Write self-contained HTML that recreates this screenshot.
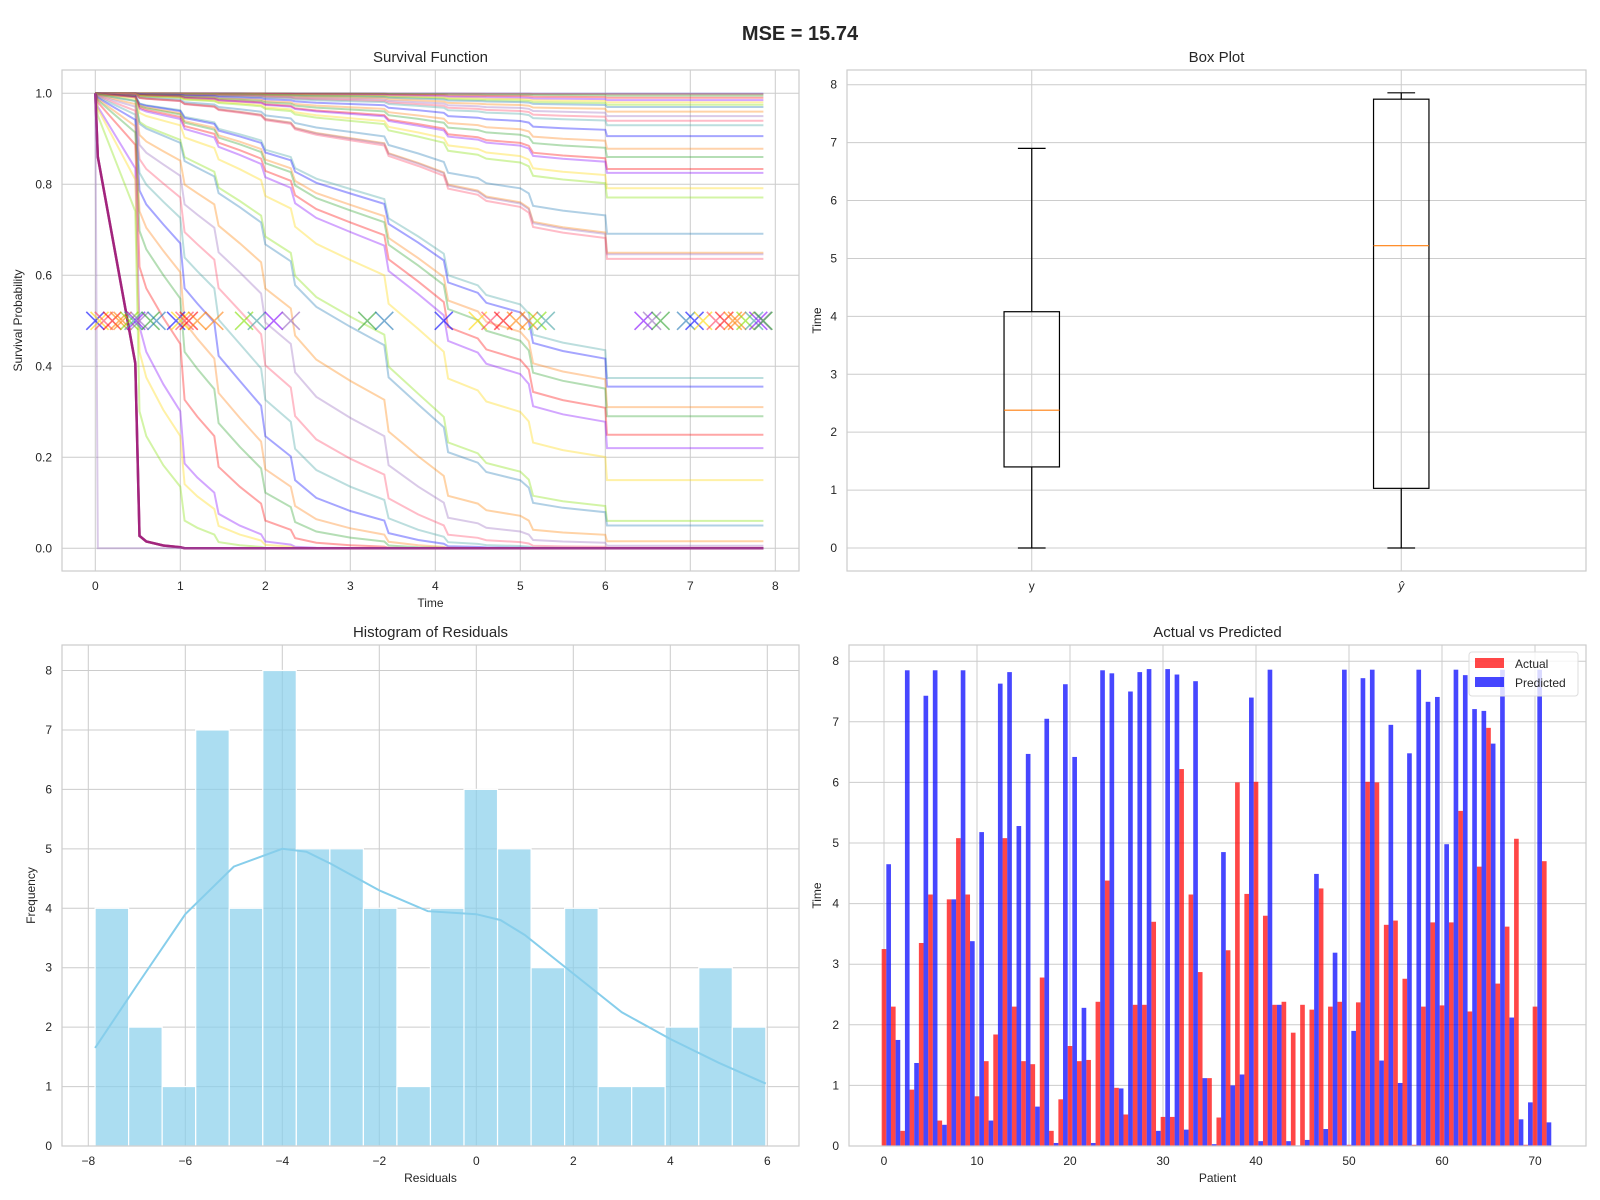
<!DOCTYPE html>
<html><head><meta charset="utf-8"><style>
body{margin:0;background:#fff;}
svg{display:block;font-family:"Liberation Sans",Arial,sans-serif;}
</style></head><body>
<svg id="fig" width="1600" height="1200" viewBox="0 0 1600 1200">
<text x="800" y="40" text-anchor="middle" font-size="20" font-weight="bold" fill="#262626">MSE = 15.74</text>
<g id="p1"></g>
<g id="p2"></g>
<g id="p3"></g>
<g id="p4"></g>
</svg>
<script>
// ---- Survival data ----
const survTimes = [0,0.03,0.47,0.52,0.6,0.8,1.0,1.05,1.2,1.4,1.45,1.7,1.95,2.0,2.3,2.35,2.6,3.0,3.4,3.45,3.8,4.1,4.15,4.5,4.6,5.0,5.1,5.15,5.5,6.0,6.02,7.86];
const baseHazard = [0,0.0005,0.003,0.012,0.014,0.017,0.02,0.028,0.031,0.035,0.043,0.05,0.058,0.07,0.08,0.095,0.11,0.125,0.14,0.17,0.2,0.23,0.27,0.29,0.31,0.33,0.35,0.40,0.42,0.44,0.52,0.52];
const riskScores = [0.002,0.004,0.0096,0.019,0.029,0.039,0.049,0.059,0.079,0.099,0.12,0.14,0.19,0.25,0.29,0.35,0.37,0.45,0.5,0.71,0.83,0.84,0.87,1.89,1.99,2.25,2.38,2.67,2.91,3.65,5.4,5.76,8,10,13,16,20,25,30,40,60,70,100,300,300,20000];
const markerTimes = [0.0,0.05,0.1,0.2,0.28,0.32,0.4,0.45,0.48,0.52,0.65,0.72,0.95,1.0,1.05,1.1,1.2,1.4,1.75,1.9,2.1,2.3,3.2,3.4,4.1,4.5,4.65,4.8,4.95,5.1,5.2,5.3,6.45,6.55,6.65,6.95,7.05,7.15,7.3,7.4,7.5,7.55,7.65,7.75,7.8,7.85,7.86];
const survXTicks = [0,1,2,3,4,5,6,7,8];
const survYTicks = [0.0,0.2,0.4,0.6,0.8,1.0];
// ---- Box plot data ----
const boxLabels = ['y','ŷ'];
const boxMin = [0,0];
const boxQ1 = [1.4,1.03];
const boxMedian = [2.38,5.22];
const boxQ3 = [4.08,7.75];
const boxMax = [6.9,7.86];
const boxYTicks = [0,1,2,3,4,5,6,7,8];
// ---- Histogram data ----
const histCounts = [4,2,1,7,4,8,5,5,4,1,4,6,5,3,4,1,1,2,3,2];
const histMin = -7.86, histMax = 5.97;
const kdeX = [-7.86,-7,-6,-5,-4,-3.5,-3,-2,-1,0,0.5,1,2,3,4,5,5.97];
const kdeY = [1.65,2.7,3.9,4.7,5.0,4.95,4.75,4.3,3.95,3.9,3.8,3.55,2.9,2.25,1.8,1.4,1.05];
const histXTicks = [-8,-6,-4,-2,0,2,4,6];
const histYTicks = [0,1,2,3,4,5,6,7,8];
// ---- Actual vs Predicted ----
const actual = [3.25,2.3,0.25,0.93,3.35,4.15,0.42,4.07,5.08,4.15,0.82,1.4,1.84,5.08,2.3,1.4,1.35,2.78,0.25,0.77,1.65,1.4,1.42,2.38,4.38,0.96,0.52,2.33,2.33,3.7,0.48,0.48,6.22,4.15,2.87,1.12,0.47,3.23,6.0,4.16,6.01,3.8,2.33,2.38,1.87,2.33,2.25,4.25,2.3,2.38,0.02,2.37,6.01,6.0,3.65,3.72,2.76,0.02,2.3,3.69,2.32,3.69,5.53,2.22,4.61,6.9,2.68,3.62,5.07,0.02,2.3,4.7];
const predicted = [4.65,1.75,7.85,1.37,7.43,7.85,0.35,4.07,7.85,3.38,5.18,0.42,7.63,7.82,5.28,6.47,0.65,7.05,0.05,7.62,6.42,2.28,0.05,7.85,7.8,0.95,7.5,7.82,7.87,0.25,7.87,7.78,0.27,7.67,1.12,0.03,4.85,1.0,1.18,7.4,0.08,7.86,2.33,0.08,0.01,0.1,4.49,0.28,3.19,7.86,1.9,7.72,7.86,1.41,6.95,1.04,6.48,7.86,7.33,7.41,4.98,7.86,7.77,7.21,7.18,6.64,7.86,2.12,0.44,0.72,7.86,0.39];
const barXTicks = [0,10,20,30,40,50,60,70];
const barYTicks = [0,1,2,3,4,5,6,7,8];

const NS='http://www.w3.org/2000/svg';
function mk(parent,tag,attrs,text){const e=document.createElementNS(NS,tag);for(const k in attrs)e.setAttribute(k,attrs[k]);if(text!==undefined)e.textContent=text;parent.appendChild(e);return e;}
function lin(d0,d1,r0,r1){return v=>r0+(v-d0)*(r1-r0)/(d1-d0);}
const TXT='#262626', GRID='#cccccc';

function axes(g,box,sx,sy,xt,yt,fmtx,fmty,title,xl,yl,ylx){
  const [L,T,R,B]=box;
  const bg=mk(g,'rect',{x:L,y:T,width:R-L,height:B-T,fill:'#fff'});
  
  
  xt.forEach(v=>{const x=sx(v);
    const l=mk(g,'line',{x1:x,x2:x,y1:T,y2:B,stroke:GRID,'stroke-width':1});
    
    
    const t=mk(g,'text',{x:x,y:B+19,'text-anchor':'middle','font-size':12,fill:TXT},fmtx(v));
    
    });
  yt.forEach(v=>{const y=sy(v);
    const l=mk(g,'line',{x1:L,x2:R,y1:y,y2:y,stroke:GRID,'stroke-width':1});
    
    
    const t=mk(g,'text',{x:L-10,y:y+4,'text-anchor':'end','font-size':12,fill:TXT},fmty(v));
    
    });
  const tt=mk(g,'text',{x:(L+R)/2,y:T-8,'text-anchor':'middle','font-size':15,fill:TXT},title);
  
  
  if(xl){const a=mk(g,'text',{x:(L+R)/2,y:B+36,'text-anchor':'middle','font-size':12,fill:TXT},xl);
    
    }
  if(yl){const cy=(T+B)/2;const a=mk(g,'text',{x:ylx,y:cy,'text-anchor':'middle','font-size':12,fill:TXT,transform:`rotate(-90 ${ylx} ${cy})`},yl);
    
    }
}
function frame(g,box){const [L,T,R,B]=box;
  const f=mk(g,'rect',{x:L,y:T,width:R-L,height:B-T,fill:'none',stroke:GRID,'stroke-width':1.2});
  
  }

// Panel 1: survival
(function(){
  const g=document.getElementById('p1');const box=[62,70,799,571];
  const sx=lin(0,1,95.3,180.3), sy=lin(0,1,548.3,93.3);
  axes(g,box,sx,sy,survXTicks,survYTicks,v=>v,v=>v.toFixed(1),'Survival Function','Time','Survival Probability',22);
  const cols=['#0000ff','#ff7f0e','#2ca02c','#ff0000','#8000ff','#ffd700','#80e000','#1f77b4','#ff8000','#9467bd','#ff4060','#40a0a0'];
  riskScores.forEach((h,i)=>{
    const pts=survTimes.map((t,k)=>sx(t).toFixed(1)+','+sy(Math.exp(-h*baseHazard[k])).toFixed(1)).join(' ');
    const thick=h>=300&&h<1000;
    const p=mk(g,'polyline',{points:pts,fill:'none',stroke:thick?'#a0207a':cols[i%cols.length],'stroke-width':thick?2.5:2,'stroke-opacity':thick?0.85:0.35});
    
    
  });
  markerTimes.forEach((t,i)=>{const x=sx(t),y=sy(0.5),r=9;
    const c=cols[(i*5)%cols.length];
    const m=mk(g,'path',{d:`M${x-r},${y-r}L${x+r},${y+r}M${x-r},${y+r}L${x+r},${y-r}`,stroke:c,'stroke-width':1.6,'stroke-opacity':0.6,fill:'none'});
    
    });
  frame(g,box);
})();

// Panel 2: box plot
(function(){
  const g=document.getElementById('p2');const box=[847,70,1586,571];
  const sx=lin(0.5,2.5,847,1586), sy=lin(0,8,548,84.7);
  axes(g,box,sx,sy,[],boxYTicks,v=>v,v=>v,'Box Plot',null,'Time',821);
  boxLabels.forEach((lab,i)=>{const cx=sx(i+1),hw=(sx(1.075)-sx(1)),cw=hw/2;
    const gl=mk(g,'line',{x1:cx,x2:cx,y1:box[1],y2:box[3],stroke:GRID,'stroke-width':1});
    
    
    const t=mk(g,'text',{x:cx,y:box[3]+19,'text-anchor':'middle','font-size':12,fill:TXT,'font-style':i?'italic':'normal'},lab);
    
    
    const w=mk(g,'path',{d:`M${cx},${sy(boxQ1[i])}V${sy(boxMin[i])}M${cx-cw},${sy(boxMin[i])}H${cx+cw}M${cx},${sy(boxQ3[i])}V${sy(boxMax[i])}M${cx-cw},${sy(boxMax[i])}H${cx+cw}`,stroke:'#000','stroke-width':1.2,fill:'none'});
    
    
    const b=mk(g,'rect',{x:cx-hw,y:sy(boxQ3[i]),width:2*hw,height:sy(boxQ1[i])-sy(boxQ3[i]),fill:'none',stroke:'#000','stroke-width':1.2});
    
    
    const m=mk(g,'line',{x1:cx-hw,x2:cx+hw,y1:sy(boxMedian[i]),y2:sy(boxMedian[i]),stroke:'#ff7f0e','stroke-width':1.2});
    
    
  });
  frame(g,box);
})();

// Panel 3: histogram
(function(){
  const g=document.getElementById('p3');const box=[62,645,799,1146];
  const sx=lin(-8,6,88.3,767.3), sy=lin(0,8,1146,670.5);
  axes(g,box,sx,sy,histXTicks,histYTicks,v=>v<0?'\u2212'+(-v):v,v=>v,'Histogram of Residuals','Residuals','Frequency',35);
  const bw=(histMax-histMin)/histCounts.length;
  histCounts.forEach((c,i)=>{const x0=sx(histMin+i*bw),x1=sx(histMin+(i+1)*bw);
    const r=mk(g,'rect',{x:x0,y:sy(c),width:x1-x0,height:sy(0)-sy(c),fill:'#87ceeb','fill-opacity':0.7,stroke:'#fff','stroke-width':1.2});
    
    });
  let d='';kdeX.forEach((x,i)=>{d+=(i?'L':'M')+sx(x).toFixed(1)+','+sy(kdeY[i]).toFixed(1);});
  const k=mk(g,'path',{d:d,fill:'none',stroke:'#87ceeb','stroke-width':2});
  
  
  frame(g,box);
})();

// Panel 4: bars
(function(){
  const g=document.getElementById('p4');const box=[849,645,1586,1146];
  const sx=lin(0,10,884,977), sy=lin(0,1,1146,1085.4);
  axes(g,box,sx,sy,barXTicks,barYTicks,v=>v,v=>v,'Actual vs Predicted','Patient','Time',821);
  actual.forEach((v,i)=>{
    const r=mk(g,'rect',{x:sx(i-0.25),y:sy(v),width:sx(0.5)-sx(0),height:sy(0)-sy(v),fill:'#ff0000','fill-opacity':0.72});
    
    });
  predicted.forEach((v,i)=>{
    const r=mk(g,'rect',{x:sx(i+0.25),y:sy(v),width:sx(0.5)-sx(0),height:sy(0)-sy(v),fill:'#0000ff','fill-opacity':0.72});
    
    });
  frame(g,box);
  const lg=mk(g,'g',{});
  
  
  mk(lg,'rect',{x:1469,y:652,width:109,height:44,rx:3,fill:'#fff','fill-opacity':0.8,stroke:'#ddd'});
  const e1=mk(lg,'rect',{x:1475,y:658,width:29,height:10,fill:'#ff0000','fill-opacity':0.72});
  
  
  mk(lg,'text',{x:1515,y:668,'font-size':12,fill:TXT},'Actual');
  const e2=mk(lg,'rect',{x:1475,y:677,width:29,height:10,fill:'#0000ff','fill-opacity':0.72});
  
  
  mk(lg,'text',{x:1515,y:687,'font-size':12,fill:TXT},'Predicted');
})();
</script>
</body></html>
